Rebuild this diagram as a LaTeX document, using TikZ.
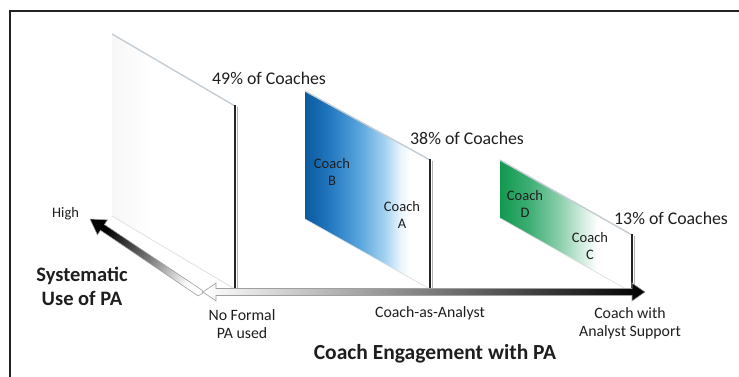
\documentclass[tikz,border=0pt]{standalone}
\usepackage{fontspec}
\setmainfont{Carlito}
\usetikzlibrary{calc}
\definecolor{framec}{HTML}{222222}
\definecolor{txt}{HTML}{1E1E1E}
\definecolor{edgec}{HTML}{C4CDD4}
\definecolor{bottomc}{HTML}{DADADA}
\definecolor{barc}{HTML}{252525}
\definecolor{bA}{HTML}{0A5A9E}
\definecolor{bB}{HTML}{2378C0}
\definecolor{bC}{HTML}{5AA6DE}
\definecolor{bD}{HTML}{A5D2F0}
\definecolor{bE}{HTML}{E8F4FC}
\definecolor{gA}{HTML}{12994F}
\definecolor{gB}{HTML}{3DAE74}
\definecolor{gC}{HTML}{8ED0AE}
\definecolor{gD}{HTML}{D8F0E4}
\definecolor{pA}{HTML}{F7F7F7}
\pgfdeclarehorizontalshading{blueshade}{100bp}{color(0bp)=(bA); color(25bp)=(bA); color(35bp)=(bB); color(47bp)=(bC); color(57bp)=(bD); color(63bp)=(bE); color(67bp)=(white); color(100bp)=(white)}
\pgfdeclarehorizontalshading{greenshade}{100bp}{color(0bp)=(gA); color(25bp)=(gA); color(36bp)=(gB); color(48bp)=(gC); color(57bp)=(gD); color(62bp)=(white); color(100bp)=(white)}
\pgfdeclarehorizontalshading{whiteshade}{100bp}{color(0bp)=(pA); color(25bp)=(pA); color(42bp)=(white); color(100bp)=(white)}
\tikzset{
  lbl/.style={text=txt, inner sep=0pt, font=\fontsize{14.5}{17}\selectfont, align=center},
  axlbl/.style={text=txt, inner sep=0pt, font=\fontsize{15.8}{18}\selectfont, align=center},
  pct/.style={text=txt, inner sep=0pt, anchor=west, font=\fontsize{17.8}{21}\selectfont},
  big/.style={text=txt, inner sep=0pt, align=center, font=\fontsize{20.5}{24}\selectfont\bfseries},
  topedge/.style={draw=edgec, line width=1.4pt},
  botedge/.style={draw=bottomc, line width=0.6pt},
  bar/.style={draw=barc, line width=2.6pt},
  barlight/.style={draw=gray!60, line width=0.8pt},
  arrowoutline/.style={draw=gray!75, line width=0.6pt}
}
\begin{document}
\begin{tikzpicture}[x=1pt,y=-1pt]
\useasboundingbox (0,0) rectangle (739,376);
\clip (0,0) rectangle (739,376);
% frame
\draw[framec, line width=2pt] (10,380) -- (10,11) -- (745,11);

% panel 1
\coordinate (p1a) at (112,34);
\coordinate (p1b) at (235,106);
\coordinate (p1c) at (233,288);
\coordinate (p1d) at (112,216);
\shade[shading=whiteshade] (p1a) -- (p1b) -- (p1c) -- (p1d) -- cycle;
\draw[topedge] (p1a) -- (p1b);
\draw[botedge] (p1d) -- (p1c);
\draw[bar] (235,105) -- (235,289);
\draw[barlight] (236.9,107) -- (236.9,289);

% panel 2
\coordinate (p2a) at (305,91);
\coordinate (p2b) at (430,160);
\coordinate (p2c) at (428,288);
\coordinate (p2d) at (305,219);
\shade[shading=blueshade] (p2a) -- (p2b) -- (p2c) -- (p2d) -- cycle;
\draw[topedge] (p2a) -- (p2b);
\draw[botedge] (p2d) -- (p2c);
\draw[bar] (430,159) -- (430,289);
\draw[barlight] (431.9,161) -- (431.9,289);

% panel 3
\coordinate (p3a) at (500,160);
\coordinate (p3b) at (632,235);
\coordinate (p3c) at (626,289);
\coordinate (p3d) at (500,218);
\shade[shading=greenshade] (p3a) -- (p3b) -- (p3c) -- (p3d) -- cycle;
\draw[topedge] (p3a) -- (p3b);
\draw[botedge] (p3d) -- (p3c);
\draw[bar] (632,234) -- (632,289);
\draw[barlight] (633.9,236) -- (633.9,289);

% diagonal arrow (systematic use of PA)
\shade[top color=black, bottom color=white, middle color=black!55, shading angle=56, arrowoutline]
  (201.9,290.1) -- (104.4,224.5) -- (107.5,219.9) -- (90,219) -- (97.4,234.8)
  -- (100.5,230.3) -- (198.1,295.9) -- (203,293) -- cycle;

% horizontal arrow (coach engagement)
\shade[left color=white, right color=black, arrowoutline]
  (203,292) -- (216,283) -- (216,288.5) -- (632,288.5) -- (632,283) -- (645,292)
  -- (632,301) -- (632,295.5) -- (216,295.5) -- (216,301) -- cycle;

% labels
\node[pct] (n49) at (212,78) {49\% of Coaches};
\node[pct] (n38) at (410,138) {38\% of Coaches};
\node[pct] (n13) at (614,218) {13\% of Coaches};
\node[lbl, anchor=west] (high) at (52,214) {High};
\node[big] (sys) at (82,286) {Systematic\\Use of PA};
\node[axlbl] (nofa) at (242,324.5) {No Formal\\PA used};
\node[axlbl] (caa) at (430,313) {Coach-as-Analyst};
\node[axlbl] (cwas) at (630,323) {Coach with\\Analyst Support};
\node[big, font=\fontsize{21.5}{25}\selectfont\bfseries] (title) at (435,354) {Coach Engagement with PA};
\node[lbl] (coachB) at (332,172) {Coach\\B};
\node[lbl] (coachA) at (402,215) {Coach\\A};
\node[lbl] (coachD) at (525,204) {Coach\\D};
\node[lbl] (coachC) at (590,246) {Coach\\C};
\end{tikzpicture}
\end{document}
